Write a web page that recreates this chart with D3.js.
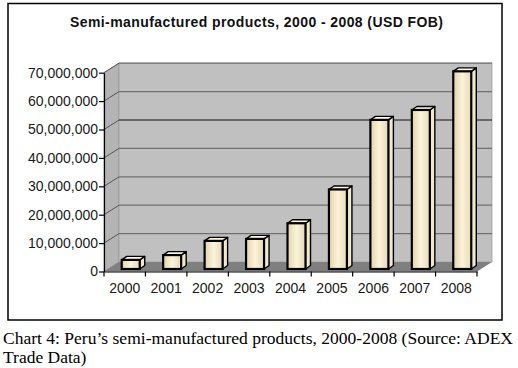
<!DOCTYPE html>
<html><head><meta charset="utf-8">
<script src="https://cdn.jsdelivr.net/npm/d3@7/dist/d3.min.js"></script>
<style>body{margin:0;background:#fff}svg{display:block}</style>
</head><body>
<script>
const years = ["2000","2001","2002","2003","2004","2005","2006","2007","2008"];
const values = [3200000, 4900000, 9900000, 10600000, 16100000, 28000000, 52500000, 56000000, 69600000];
const yTicks = [0,10000000,20000000,30000000,40000000,50000000,60000000,70000000];
const title = "Semi-manufactured products, 2000 - 2008 (USD FOB)";
const caption1 = "Chart 4: Peru\u2019s semi-manufactured products, 2000-2008 (Source: ADEX";
const caption2 = "Trade Data)";

const W = 518, H = 368;
const svg = d3.select("body").append("svg").attr("width", W).attr("height", H);

const defs = svg.append("defs");
const g1 = defs.append("linearGradient").attr("id","barFront").attr("x1","0").attr("x2","1").attr("y1","0").attr("y2","0");
g1.append("stop").attr("offset","0").attr("stop-color","#e3d5a9");
g1.append("stop").attr("offset","0.5").attr("stop-color","#fbf3db");
g1.append("stop").attr("offset","1").attr("stop-color","#e6d9b2");

// frame
svg.append("rect").attr("x",8).attr("y",3.5).attr("width",494).attr("height",316.5)
  .attr("fill","#fff").attr("stroke","#000").attr("stroke-width",1.5);

const x = d3.scaleBand().domain(years).range([104, 477]);
const y = d3.scaleLinear().domain([0, 70000000]).range([271.5, 72.7]);
const DX = 15, DY = -9.5;
const x0 = 104, x1 = 477;

// left wall
svg.append("polygon")
  .attr("points", [[x0,y(0)],[x0+DX,y(0)+DY],[x0+DX,y(70000000)+DY],[x0,y(70000000)]].map(p=>p.join(",")).join(" "))
  .attr("fill","#b4b4b4").attr("stroke","#8a8a8a").attr("stroke-width",0.8);
// back wall
svg.append("rect").attr("x",x0+DX).attr("y",y(70000000)+DY).attr("width",x1-x0).attr("height",y(0)-y(70000000))
  .attr("fill","#c0c0c0").attr("stroke","#a0a0a0").attr("stroke-width",0.8);
// gridlines
yTicks.forEach(t=>{
  if(t===0) return;
  const col = t===50000000 ? "#111" : "#707070";
  svg.append("line").attr("x1",x0+DX).attr("x2",x1+DX).attr("y1",y(t)+DY).attr("y2",y(t)+DY)
    .attr("stroke",col).attr("stroke-width",1.2);
  svg.append("line").attr("x1",x0).attr("x2",x0+DX).attr("y1",y(t)).attr("y2",y(t)+DY)
    .attr("stroke","#555").attr("stroke-width",1);
});
// floor
svg.append("polygon")
  .attr("points", [[x0,y(0)],[x1,y(0)],[x1+DX,y(0)+DY],[x0+DX,y(0)+DY]].map(p=>p.join(",")).join(" "))
  .attr("fill","#7f7f7f");

// bars
const BW = 18, BDX = 5, BDY = -3.5, OFFX = 6, OFFY = -2.5;
const bars = svg.append("g");
years.forEach((yr,i)=>{
  const v = values[i];
  const cx = x(yr) + x.bandwidth()/2 + OFFX;
  const left = cx - BW/2, right = cx + BW/2;
  const bot = y(0) + OFFY, top = y(v) + OFFY;
  const gb = bars.append("g");
  gb.append("polygon").attr("points",[[right,top],[right+BDX,top+BDY],[right+BDX,bot+BDY],[right,bot]].map(p=>p.join(",")).join(" "))
    .attr("fill","#f2e9cc").attr("stroke","#000").attr("stroke-width",1.4).attr("stroke-linejoin","round");
  gb.append("polygon").attr("points",[[left,top],[left+BDX,top+BDY],[right+BDX,top+BDY],[right,top]].map(p=>p.join(",")).join(" "))
    .attr("fill","#fdf8e6").attr("stroke","#000").attr("stroke-width",1.4).attr("stroke-linejoin","round");
  gb.append("rect").attr("x",left).attr("y",top).attr("width",BW).attr("height",bot-top)
    .attr("fill","url(#barFront)").attr("stroke","#000").attr("stroke-width",2.2);
});

// y axis
const yAxis = svg.append("g").attr("transform",`translate(${x0},0)`)
  .call(d3.axisLeft(y).tickValues(yTicks).tickFormat(d3.format(",")).tickSize(5).tickSizeOuter(0));
yAxis.select(".domain").attr("stroke","#000").attr("stroke-width",1.2);
yAxis.selectAll(".tick line").attr("stroke","#000").attr("stroke-width",1.2);
yAxis.selectAll(".tick text").attr("font-family","Liberation Sans, Arial, sans-serif").attr("font-size",14)
  .attr("fill","#1a1a1a").attr("x",-6);

// x axis
const xAxis = svg.append("g").attr("transform",`translate(0,${y(0)})`)
  .call(d3.axisBottom(x).tickSize(0).tickSizeOuter(0));
xAxis.select(".domain").attr("stroke","#000").attr("stroke-width",1.2);
xAxis.selectAll(".tick text").attr("font-family","Liberation Sans, Arial, sans-serif").attr("font-size",14)
  .attr("fill","#1a1a1a").attr("dy","0").attr("y",21.5);
const bounds = years.map(d=>x(d)).concat([x1]);
xAxis.selectAll("line.bnd").data(bounds).enter().append("line").attr("class","bnd")
  .attr("x1",d=>d).attr("x2",d=>d).attr("y1",0).attr("y2",5).attr("stroke","#000").attr("stroke-width",1.2);

// title
svg.append("text").attr("x",256.5).attr("y",27).attr("text-anchor","middle")
  .attr("font-family","Liberation Sans, Arial, sans-serif").attr("font-weight","bold").attr("font-size",14)
  .attr("textLength",373).attr("lengthAdjust","spacing").attr("fill","#111").text(title);

// caption
svg.append("text").attr("x",3).attr("y",344).attr("font-family","Liberation Serif, Times New Roman, serif")
  .attr("font-size",17.5).attr("textLength",510).attr("lengthAdjust","spacing").attr("fill","#000").text(caption1);
svg.append("text").attr("x",3).attr("y",363).attr("font-family","Liberation Serif, Times New Roman, serif")
  .attr("font-size",17.5).attr("fill","#000").text(caption2);
</script>
</body></html>
